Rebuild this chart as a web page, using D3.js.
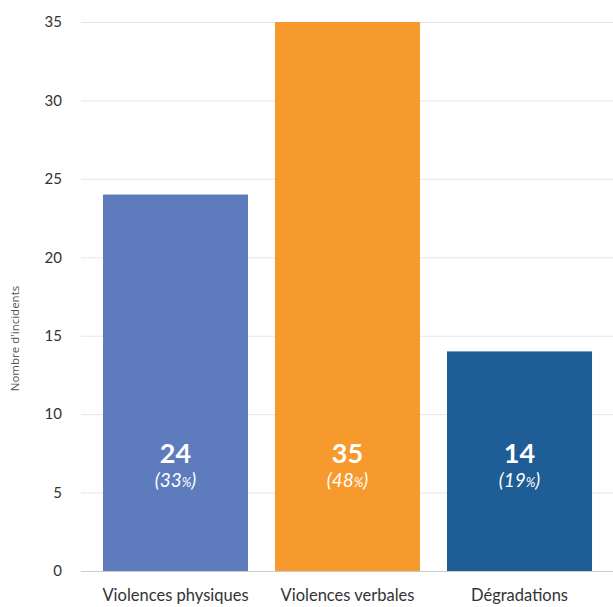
<!DOCTYPE html>
<html>
<head>
<meta charset="utf-8">
<script src="https://cdn.jsdelivr.net/npm/d3@7"></script>
<style>
  body { margin: 0; background: #fff; }
  svg { display: block; font-family: Lato, "Open Sans", sans-serif; }
</style>
</head>
<body>
<svg id="chart" width="613" height="607"></svg>
<script>
const categories = ["Violences physiques", "Violences verbales", "Dégradations"];
const values = [24, 35, 14];
const percents = [33, 48, 19];
const colors = ["#5e7bbe", "#f79a2e", "#1f5d96"];
const yTicks = [0, 5, 10, 15, 20, 25, 30, 35];

const svg = d3.select("#chart");
const margin = { top: 22, right: 0, bottom: 36, left: 82 };
const W = 613, H = 607;

const x = d3.scaleBand()
  .domain(categories)
  .range([margin.left, W - margin.right])
  .paddingInner(0.157)
  .paddingOuter(0.122);

const y = d3.scaleLinear()
  .domain([0, 35])
  .range([H - margin.bottom, margin.top]);

// horizontal gridlines
svg.append("g")
  .selectAll("line")
  .data(yTicks)
  .join("line")
  .attr("x1", margin.left - 1)
  .attr("x2", W)
  .attr("y1", d => y(d) + 0.5)
  .attr("y2", d => y(d) + 0.5)
  .attr("stroke", d => d === 0 ? "#cccccc" : "#e6e6e6")
  .attr("stroke-width", 1);

// y axis tick labels
const yAxis = d3.axisLeft(y).tickValues(yTicks).tickSize(0).tickPadding(20);
const gy = svg.append("g")
  .attr("transform", `translate(${margin.left},0)`)
  .call(yAxis);
gy.select(".domain").remove();
gy.selectAll("text")
  .attr("font-family", "Lato, sans-serif")
  .attr("font-size", 15)
  .attr("fill", "#333");

// y axis title
svg.append("text")
  .attr("transform", `translate(19,${(margin.top + H - margin.bottom) / 2 + 42}) rotate(-90)`)
  .attr("text-anchor", "middle")
  .attr("font-family", "'Open Sans', sans-serif")
  .attr("font-size", 11.5)
  .attr("fill", "#555")
  .text("Nombre d'incidents");

// bars
svg.append("g")
  .selectAll("rect")
  .data(values)
  .join("rect")
  .attr("x", (d, i) => x(categories[i]))
  .attr("width", x.bandwidth())
  .attr("y", d => y(d))
  .attr("height", d => y(0) - y(d))
  .attr("fill", (d, i) => colors[i]);

// value labels
const labels = svg.append("g")
  .selectAll("g")
  .data(values)
  .join("g")
  .attr("transform", (d, i) => `translate(${x(categories[i]) + x.bandwidth() / 2},0)`);

labels.append("text")
  .attr("y", 463)
  .attr("text-anchor", "middle")
  .attr("font-size", 27)
  .attr("font-weight", "bold")
  .attr("fill", "#fff")
  .text(d => d);

const pct = labels.append("text")
  .attr("y", 487)
  .attr("text-anchor", "middle")
  .attr("font-size", 19)
  .attr("font-style", "italic")
  .attr("fill", "#fff");
pct.append("tspan").text((d, i) => "(" + percents[i]);
pct.append("tspan").attr("font-size", 13).text("%");
pct.append("tspan").text(")");

// category axis
const xAxis = d3.axisBottom(x).tickSize(0).tickPadding(18);
const gx = svg.append("g")
  .attr("transform", `translate(0,${y(0)})`)
  .call(xAxis);
gx.select(".domain").remove();
gx.selectAll("text")
  .attr("font-family", "Lato, sans-serif")
  .attr("font-size", 16.5)
  .attr("fill", "#333");
</script>
</body>
</html>
